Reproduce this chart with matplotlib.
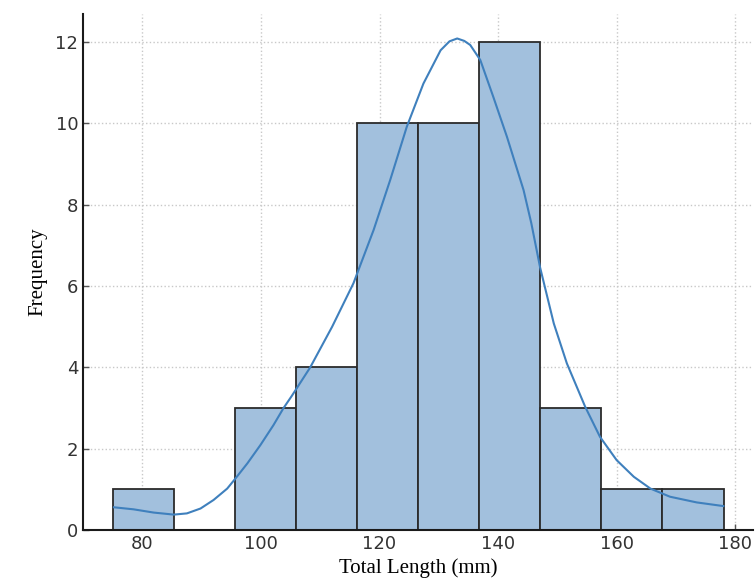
import numpy as np
import matplotlib
matplotlib.use('Agg')
import matplotlib.pyplot as plt

# histogram counts
bin_edges = [75.06, 85.36, 95.65, 105.95, 116.25, 126.55, 136.84, 147.14, 157.44, 167.73, 178.03]
counts = [1, 0, 3, 4, 10, 10, 12, 3, 1, 1]

# kde curve, points
kde_x = [75.2, 78.5, 81.9, 85.3, 87.5, 89.8, 92.0, 94.3, 95.7, 97.7, 99.9, 102.1,
         103.8, 105.2, 108.3, 112.0, 115.6, 119.0, 121.8, 124.6, 127.4, 130.3,
         131.8, 133.1, 134.3, 135.3, 137.0, 139.2, 141.5, 144.3, 145.6, 147.1,
         149.4, 151.6, 154.7, 157.2, 160.0, 162.9, 165.7, 169.0, 173.5, 178.0]
kde_y = [0.56, 0.51, 0.43, 0.38, 0.41, 0.53, 0.74, 1.02, 1.27, 1.64, 2.09, 2.58,
         3.00, 3.30, 4.00, 5.00, 6.07, 7.38, 8.61, 9.92, 10.98, 11.80,
         12.02, 12.09, 12.03, 11.93, 11.56, 10.65, 9.67, 8.36, 7.55, 6.45,
         5.08, 4.10, 3.03, 2.29, 1.72, 1.31, 1.02, 0.82, 0.68, 0.59]

xticks = [80, 100, 120, 140, 160, 180]
yticks = [0, 2, 4, 6, 8, 10, 12]

fig = plt.figure(figsize=(7.56, 5.87), dpi=100)
ax = fig.add_axes([0.11, 0.097, 0.886, 0.879])

lefts = np.array(bin_edges[:-1])
widths = np.diff(bin_edges)
ax.bar(lefts, counts, width=widths, align='edge', color='#a2c0dd',
       edgecolor='#2b2b2b', linewidth=1.3, zorder=2)
ax.plot(kde_x, kde_y, color='#3f80bd', linewidth=1.5, zorder=3,
        solid_joinstyle='round')

ax.set_xlim(70.0, 183.0)
ax.set_ylim(0, 12.69)
ax.set_xticks(xticks)
ax.set_yticks(yticks)
ax.grid(True, linestyle=':', color='#c8c8c8', linewidth=1.0, zorder=0)
ax.set_axisbelow(True)

for s in ['top', 'right']:
    ax.spines[s].set_visible(False)
for s in ['left', 'bottom']:
    ax.spines[s].set_linewidth(1.5)
    ax.spines[s].set_color('#1a1a1a')

ax.tick_params(direction='in', length=4, width=1, labelsize=13,
               labelcolor='#333333', color='#555555')

ax.set_xlabel('Total Length (mm)', family='Liberation Serif', fontsize=15, labelpad=4)
ax.set_ylabel('Frequency', family='Liberation Serif', fontsize=15, labelpad=6)

fig.savefig('out.png', dpi=100)
